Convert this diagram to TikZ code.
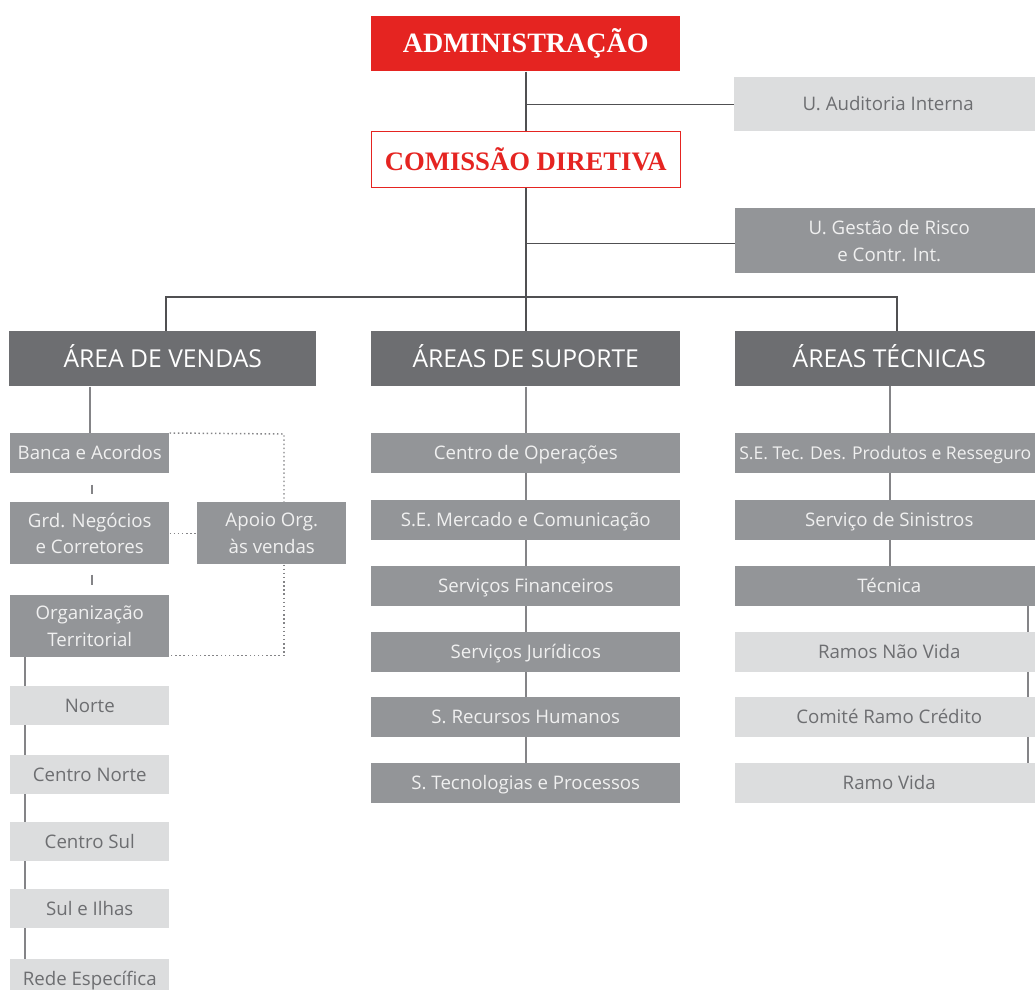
\documentclass[tikz,border=0pt]{standalone}
\usepackage{fontspec}
\setmainfont{Open Sans}
\newfontfamily\titlefont{Liberation Serif}
\usetikzlibrary{calc,backgrounds}
\definecolor{admred}{HTML}{E52421}
\definecolor{headgray}{HTML}{6D6E71}
\definecolor{midgray}{HTML}{939598}
\definecolor{palegray}{HTML}{DCDDDE}
\definecolor{textgray}{HTML}{6D6E71}
\definecolor{linedark}{HTML}{505052}
\definecolor{linegray}{HTML}{848487}

\begin{document}
\begin{tikzpicture}[x=0.75pt,y=-0.75pt,
    box/.style={rectangle, inner sep=0pt, anchor=north west, align=center},
    wd/.style={minimum width=#1*0.75pt},
    ht/.style={minimum height=#1*0.75pt},
    oneline/.style={text height=10pt, text depth=0pt},
    title/.style={box, font=\titlefont\bfseries\fontsize{20.5}{22}\selectfont},
    head/.style={box, oneline, text height=13pt, fill=headgray, text=white, font=\fontsize{18.5}{20}\selectfont},
    unit/.style={box, fill=midgray, text=white!94!black, font=\fontsize{14}{20}\selectfont},
    sub/.style={box, fill=palegray, text=textgray, font=\fontsize{14}{20}\selectfont},
    link/.style={draw=linedark, line width=1.1pt},
    sublink/.style={draw=linegray, line width=1.1pt},
    dot/.style={draw=linegray, line width=1.1pt, dotted}]
  %%%%% START %%%%%

  \useasboundingbox (0,0) rectangle (1035,989);

  % direction
  \node[title, wd=309, ht=55, fill=admred, text=white, font=\titlefont\bfseries\fontsize{21}{22}\selectfont] (adm) at (371,16) {ADMINISTRAÇÃO};
  \node[sub, oneline, wd=308, ht=54] (aud) at (734,77) {U. Auditoria Interna};
  \node[title, wd=309, ht=56, fill=white, draw=admred, text=admred, font=\titlefont\bfseries\fontsize{20}{22}\selectfont] (com) at (371,131) {COMISSÃO DIRETIVA};
  \node[unit, wd=308, ht=65] (risk) at (735,208) {U. Gestão de Risco\\e Contr. Int.};

  % areas
  \node[head, wd=307, ht=55] (vendas) at (9,331) {ÁREA DE VENDAS};
  \node[head, wd=309, ht=55] (suporte) at (371,331) {ÁREAS DE SUPORTE};
  \node[head, wd=308, ht=55] (tecnicas) at (735,331) {ÁREAS TÉCNICAS};

  % area de vendas
  \node[unit, oneline, wd=159, ht=40] (banca) at (10,433) {Banca e Acordos};
  \node[unit, wd=159, ht=62] (grd) at (10,502) {Grd. Negócios\\e Corretores};
  \node[unit, wd=159, ht=62] (org) at (10,595) {Organização\\Territorial};
  \node[unit, wd=149, ht=62] (apoio) at (197,502) {Apoio Org.\\às vendas};

  \node[sub, oneline, wd=159, ht=39] (norte) at (10,686) {Norte};
  \node[sub, oneline, wd=159, ht=39] (cnorte) at (10,755) {Centro Norte};
  \node[sub, oneline, wd=159, ht=39] (csul) at (10,822) {Centro Sul};
  \node[sub, oneline, wd=159, ht=39] (sul) at (10,889) {Sul e Ilhas};
  \node[sub, oneline, wd=159, ht=39] (rede) at (10,959) {Rede Específica};

  % areas de suporte
  \node[unit, oneline, wd=309, ht=40] (oper) at (371,433) {Centro de Operações};
  \node[unit, oneline, wd=309, ht=40] (merc) at (371,500) {S.E. Mercado e Comunicação};
  \node[unit, oneline, wd=309, ht=40] (fin) at (371,566) {Serviços Financeiros};
  \node[unit, oneline, wd=309, ht=40] (jur) at (371,632) {Serviços Jurídicos};
  \node[unit, oneline, wd=309, ht=40] (rh) at (371,697) {S. Recursos Humanos};
  \node[unit, oneline, wd=309, ht=40] (tp) at (371,763) {S. Tecnologias e Processos};

  % areas tecnicas
  \node[unit, oneline, wd=300, ht=40, font=\fontsize{13.2}{20}\selectfont] (prod) at (735,433) {S.E. Tec. Des. Produtos e Resseguro};
  \node[unit, oneline, wd=308, ht=40] (sin) at (735,500) {Serviço de Sinistros};
  \node[unit, oneline, wd=308, ht=40] (tecn) at (735,566) {Técnica};
  \node[sub, oneline, wd=308, ht=40] (naovida) at (735,632) {Ramos Não Vida};
  \node[sub, oneline, wd=308, ht=40] (credito) at (735,697) {Comité Ramo Crédito};
  \node[sub, oneline, wd=308, ht=40] (vida) at (735,763) {Ramo Vida};

  \coordinate (bus) at (525,297);
  \coordinate (busl) at (166,297);
  \coordinate (busr) at (897,297);
  \coordinate (dtop) at (284,434);
  \coordinate (terr) at (25,657);
  \coordinate (tecv) at (890,386);
  \coordinate (ramov) at (1028,606);

  \begin{scope}[on background layer]
    \draw[link] (adm.south) -- (suporte.north);
    \draw[link] (aud.west) -- (aud.west -| adm.south);
    \draw[link] (risk.west) ++(0,2.5) -- ($(risk.west -| com.south)+(0,2.5)$);
    \draw[link] (busl |- vendas.north) -- (busl) -- (busr) -- (busr |- tecnicas.north);

    \draw[sublink] (vendas.south -| banca.north) -- (banca.north);
    \draw[sublink] ($(banca.south)+(2,11)$) -- +(0,9);
    \draw[sublink] ($(grd.south)+(2,10)$) -- +(0,10);
    \draw[sublink] (terr) -- (terr |- rede.north);
    \draw[dot] (banca.north east) -- (dtop) -- (dtop |- apoio.north);
    \draw[dot] (grd.east) -- (apoio.west);
    \draw[dot] (dtop |- apoio.south) |- ($(org.south east)+(0,-2)$);

    \draw[sublink] (suporte.south) -- (tp.north);

    \draw[sublink] (tecv) -- (tecv |- tecn.north);
    \draw[sublink] (ramov) -- (ramov |- vida.north);
  \end{scope}

  %%%%% END %%%%%
\end{tikzpicture}
\end{document}
